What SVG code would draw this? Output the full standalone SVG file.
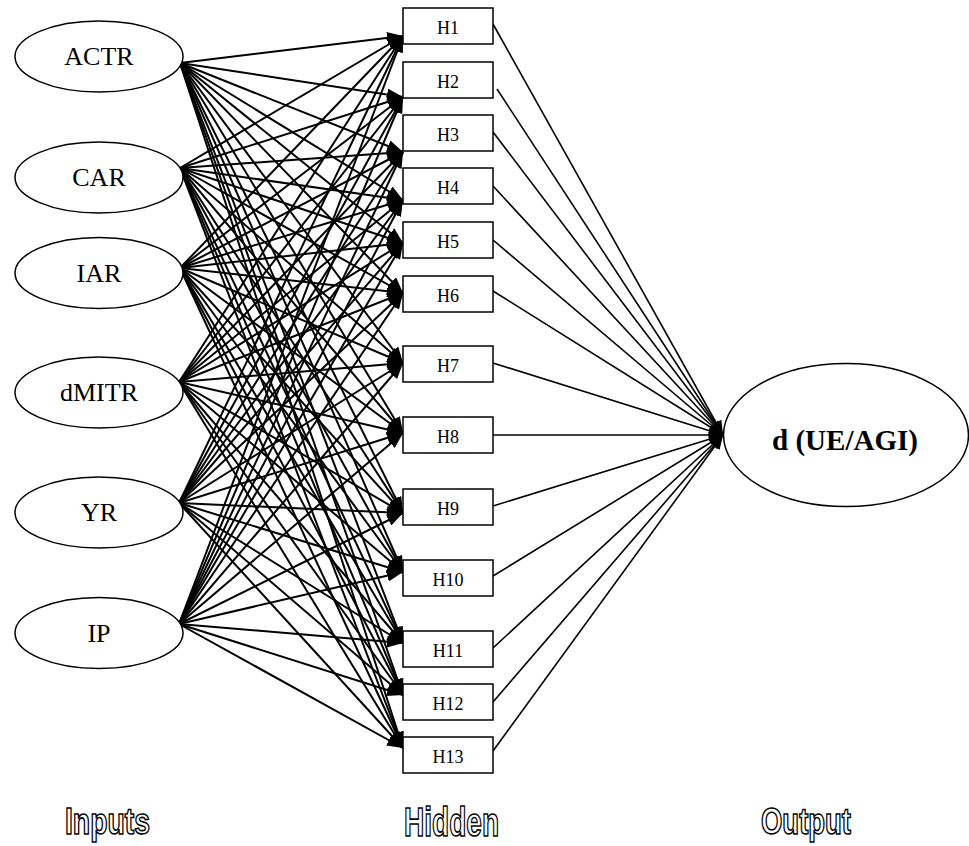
<svg xmlns="http://www.w3.org/2000/svg" width="969" height="846" viewBox="0 0 969 846">
<style>
.nd{fill:#fff;stroke:#000;stroke-width:1.5}
.t{font-family:"Liberation Serif","Times New Roman",serif;fill:#000;text-anchor:middle}
.ti{font-size:26px}
.th{font-size:18px}
.to{font-size:29px;font-weight:bold}
.e{stroke:#000;stroke-width:2;fill:none;marker-end:url(#ah)}
.o{stroke:#000;stroke-width:1.6;fill:none;marker-end:url(#ah2)}
.lab{font-family:"Liberation Sans Narrow","Liberation Sans",Arial,sans-serif;font-weight:bold;fill:#fff;stroke:#000;stroke-width:1.6}
</style>
<defs>
<marker id="ah" markerUnits="userSpaceOnUse" markerWidth="16" markerHeight="12" refX="16" refY="6" orient="auto"><path d="M0,0 L16,6 L0,12 z" fill="#000"/></marker>
<marker id="ah2" markerUnits="userSpaceOnUse" markerWidth="14" markerHeight="12" refX="14" refY="6" orient="auto"><path d="M0,0 L14,6 L0,12 z" fill="#000"/></marker>
</defs>
<g id="connectors">
<g id="from-ACTR">
<line class="e" x1="180" y1="63" x2="403" y2="36"/>
<line class="e" x1="180" y1="63" x2="403" y2="97"/>
<line class="e" x1="180" y1="63" x2="403" y2="152"/>
<line class="e" x1="180" y1="63" x2="403" y2="200"/>
<line class="e" x1="180" y1="63" x2="403" y2="243"/>
<line class="e" x1="180" y1="63" x2="403" y2="293"/>
<line class="e" x1="180" y1="63" x2="403" y2="363"/>
<line class="e" x1="180" y1="63" x2="403" y2="433"/>
<line class="e" x1="180" y1="63" x2="403" y2="513"/>
<line class="e" x1="180" y1="63" x2="403" y2="572"/>
<line class="e" x1="180" y1="63" x2="403" y2="643"/>
<line class="e" x1="180" y1="63" x2="403" y2="695"/>
<line class="e" x1="180" y1="63" x2="403" y2="748"/>
</g>
<g id="from-CAR">
<line class="e" x1="180" y1="168" x2="403" y2="36"/>
<line class="e" x1="180" y1="168" x2="403" y2="97"/>
<line class="e" x1="180" y1="168" x2="403" y2="152"/>
<line class="e" x1="180" y1="168" x2="403" y2="200"/>
<line class="e" x1="180" y1="168" x2="403" y2="243"/>
<line class="e" x1="180" y1="168" x2="403" y2="293"/>
<line class="e" x1="180" y1="168" x2="403" y2="363"/>
<line class="e" x1="180" y1="168" x2="403" y2="433"/>
<line class="e" x1="180" y1="168" x2="403" y2="513"/>
<line class="e" x1="180" y1="168" x2="403" y2="572"/>
<line class="e" x1="180" y1="168" x2="403" y2="643"/>
<line class="e" x1="180" y1="168" x2="403" y2="695"/>
<line class="e" x1="180" y1="168" x2="403" y2="748"/>
</g>
<g id="from-IAR">
<line class="e" x1="180" y1="268" x2="403" y2="36"/>
<line class="e" x1="180" y1="268" x2="403" y2="97"/>
<line class="e" x1="180" y1="268" x2="403" y2="152"/>
<line class="e" x1="180" y1="268" x2="403" y2="200"/>
<line class="e" x1="180" y1="268" x2="403" y2="243"/>
<line class="e" x1="180" y1="268" x2="403" y2="293"/>
<line class="e" x1="180" y1="268" x2="403" y2="363"/>
<line class="e" x1="180" y1="268" x2="403" y2="433"/>
<line class="e" x1="180" y1="268" x2="403" y2="513"/>
<line class="e" x1="180" y1="268" x2="403" y2="572"/>
<line class="e" x1="180" y1="268" x2="403" y2="643"/>
<line class="e" x1="180" y1="268" x2="403" y2="695"/>
<line class="e" x1="180" y1="268" x2="403" y2="748"/>
</g>
<g id="from-dMITR">
<line class="e" x1="179" y1="382" x2="403" y2="36"/>
<line class="e" x1="179" y1="382" x2="403" y2="97"/>
<line class="e" x1="179" y1="382" x2="403" y2="152"/>
<line class="e" x1="179" y1="382" x2="403" y2="200"/>
<line class="e" x1="179" y1="382" x2="403" y2="243"/>
<line class="e" x1="179" y1="382" x2="403" y2="293"/>
<line class="e" x1="179" y1="382" x2="403" y2="363"/>
<line class="e" x1="179" y1="382" x2="403" y2="433"/>
<line class="e" x1="179" y1="382" x2="403" y2="513"/>
<line class="e" x1="179" y1="382" x2="403" y2="572"/>
<line class="e" x1="179" y1="382" x2="403" y2="643"/>
<line class="e" x1="179" y1="382" x2="403" y2="695"/>
<line class="e" x1="179" y1="382" x2="403" y2="748"/>
</g>
<g id="from-YR">
<line class="e" x1="179" y1="503" x2="403" y2="36"/>
<line class="e" x1="179" y1="503" x2="403" y2="97"/>
<line class="e" x1="179" y1="503" x2="403" y2="152"/>
<line class="e" x1="179" y1="503" x2="403" y2="200"/>
<line class="e" x1="179" y1="503" x2="403" y2="243"/>
<line class="e" x1="179" y1="503" x2="403" y2="293"/>
<line class="e" x1="179" y1="503" x2="403" y2="363"/>
<line class="e" x1="179" y1="503" x2="403" y2="433"/>
<line class="e" x1="179" y1="503" x2="403" y2="513"/>
<line class="e" x1="179" y1="503" x2="403" y2="572"/>
<line class="e" x1="179" y1="503" x2="403" y2="643"/>
<line class="e" x1="179" y1="503" x2="403" y2="695"/>
<line class="e" x1="179" y1="503" x2="403" y2="748"/>
</g>
<g id="from-IP">
<line class="e" x1="179" y1="624" x2="403" y2="36"/>
<line class="e" x1="179" y1="624" x2="403" y2="97"/>
<line class="e" x1="179" y1="624" x2="403" y2="152"/>
<line class="e" x1="179" y1="624" x2="403" y2="200"/>
<line class="e" x1="179" y1="624" x2="403" y2="243"/>
<line class="e" x1="179" y1="624" x2="403" y2="293"/>
<line class="e" x1="179" y1="624" x2="403" y2="363"/>
<line class="e" x1="179" y1="624" x2="403" y2="433"/>
<line class="e" x1="179" y1="624" x2="403" y2="513"/>
<line class="e" x1="179" y1="624" x2="403" y2="572"/>
<line class="e" x1="179" y1="624" x2="403" y2="643"/>
<line class="e" x1="179" y1="624" x2="403" y2="695"/>
<line class="e" x1="179" y1="624" x2="403" y2="748"/>
</g>
<g id="to-output">
<line class="o" x1="493" y1="24" x2="723" y2="435"/>
<line class="o" x1="497" y1="89" x2="723" y2="435"/>
<line class="o" x1="493" y1="132" x2="723" y2="435"/>
<line class="o" x1="493" y1="186" x2="723" y2="435"/>
<line class="o" x1="493" y1="240" x2="723" y2="435"/>
<line class="o" x1="493" y1="291" x2="723" y2="435"/>
<line class="o" x1="493" y1="363" x2="723" y2="435"/>
<line class="o" x1="493" y1="435" x2="723" y2="435"/>
<line class="o" x1="493" y1="506" x2="723" y2="435"/>
<line class="o" x1="493" y1="576" x2="723" y2="435"/>
<line class="o" x1="493" y1="648" x2="723" y2="435"/>
<line class="o" x1="493" y1="702" x2="723" y2="435"/>
<line class="o" x1="493" y1="751" x2="723" y2="435"/>
</g>
</g>
<g id="ACTR"><ellipse class="nd" cx="99" cy="56.5" rx="84" ry="35.5"/><text class="t ti" x="99" y="65">ACTR</text></g>
<g id="CAR"><ellipse class="nd" cx="99" cy="177.5" rx="84" ry="35.5"/><text class="t ti" x="99" y="186">CAR</text></g>
<g id="IAR"><ellipse class="nd" cx="99" cy="273" rx="84" ry="35.5"/><text class="t ti" x="99" y="282">IAR</text></g>
<g id="dMITR"><ellipse class="nd" cx="99" cy="392.5" rx="84" ry="35.5"/><text class="t ti" x="99" y="401">dMITR</text></g>
<g id="YR"><ellipse class="nd" cx="99" cy="512.5" rx="84" ry="35.5"/><text class="t ti" x="99" y="521">YR</text></g>
<g id="IP"><ellipse class="nd" cx="99" cy="633" rx="84" ry="35.5"/><text class="t ti" x="99" y="642">IP</text></g>
<g id="H1"><rect class="nd" x="403" y="8" width="90" height="36"/><text class="t th" x="448" y="34">H1</text></g>
<g id="H2"><rect class="nd" x="403" y="62" width="90" height="36"/><text class="t th" x="448" y="88">H2</text></g>
<g id="H3"><rect class="nd" x="403" y="115" width="90" height="36"/><text class="t th" x="448" y="141">H3</text></g>
<g id="H4"><rect class="nd" x="403" y="168" width="90" height="36"/><text class="t th" x="448" y="194">H4</text></g>
<g id="H5"><rect class="nd" x="403" y="222" width="90" height="36"/><text class="t th" x="448" y="248">H5</text></g>
<g id="H6"><rect class="nd" x="403" y="276" width="90" height="36"/><text class="t th" x="448" y="302">H6</text></g>
<g id="H7"><rect class="nd" x="403" y="346" width="90" height="36"/><text class="t th" x="448" y="372">H7</text></g>
<g id="H8"><rect class="nd" x="403" y="417" width="90" height="36"/><text class="t th" x="448" y="443">H8</text></g>
<g id="H9"><rect class="nd" x="403" y="489" width="90" height="36"/><text class="t th" x="448" y="515">H9</text></g>
<g id="H10"><rect class="nd" x="403" y="560" width="90" height="36"/><text class="t th" x="448" y="586">H10</text></g>
<g id="H11"><rect class="nd" x="403" y="631" width="90" height="36"/><text class="t th" x="448" y="657">H11</text></g>
<g id="H12"><rect class="nd" x="403" y="684" width="90" height="36"/><text class="t th" x="448" y="710">H12</text></g>
<g id="H13"><rect class="nd" x="403" y="737" width="90" height="36"/><text class="t th" x="448" y="763">H13</text></g>
<g id="output"><ellipse class="nd" cx="846" cy="435" rx="122.5" ry="71.5"/><text class="t to" x="845" y="450">d (UE/AGI)</text></g>
<g id="labels" opacity="0.99">
<text class="lab" x="65" y="834" font-size="36" textLength="85" lengthAdjust="spacingAndGlyphs">Inputs</text>
<text class="lab" x="404" y="836" font-size="40" textLength="95" lengthAdjust="spacingAndGlyphs">Hidden</text>
<text class="lab" x="761" y="834" font-size="36" textLength="90" lengthAdjust="spacingAndGlyphs">Output</text>
</g>
</svg>
